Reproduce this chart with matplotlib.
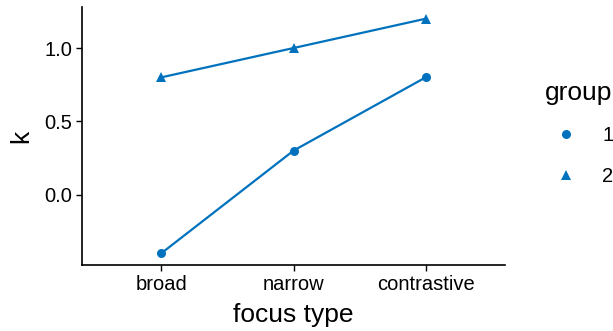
import numpy as np
import matplotlib
matplotlib.use('Agg')
import matplotlib.pyplot as plt
from matplotlib.lines import Line2D

plt.rcParams['font.family'] = ['Liberation Sans', 'DejaVu Sans']

focus = ['broad', 'narrow', 'contrastive']
groups = ['1', '2']
k_group1 = [-0.4, 0.3, 0.8]
k_group2 = [0.8, 1.0, 1.2]
yticks = [0.0, 0.5, 1.0]

blue = '#0072BD'
markers = {'1': 'o', '2': '^'}
sizes = {'1': 6.5, '2': 7.5}

fig = plt.figure(figsize=(6.13, 3.31), dpi=100)
ax = fig.add_axes([0.1338, 0.1994, 0.69, 0.7795])

x = np.arange(1, len(focus) + 1)
for g, vals in zip(groups, [k_group1, k_group2]):
    ax.plot(x, vals, color=blue, lw=1.6, marker=markers[g],
            markersize=sizes[g], markeredgewidth=0)

ymin = min(k_group1 + k_group2)
ymax = max(k_group1 + k_group2)
pad = (ymax - ymin) * 0.05
ax.set_ylim(ymin - pad, ymax + pad)
ax.set_xlim(0.4, len(focus) + 0.6)
ax.set_xticks(x)
ax.set_xticklabels(focus)
ax.set_yticks(yticks)
ax.set_yticklabels([f'{v:.1f}' for v in yticks])

for side in ['top', 'right']:
    ax.spines[side].set_visible(False)
for side in ['left', 'bottom']:
    ax.spines[side].set_linewidth(1.2)
ax.tick_params(length=4, width=1.0, labelsize=14.5, colors='black', pad=3)

ax.set_xlabel('focus type', fontsize=19, labelpad=7)
ax.set_ylabel('k', fontsize=19, labelpad=8)

handles = [Line2D([], [], color=blue, lw=0, marker=markers[g],
                  markersize=sizes[g], markeredgewidth=0) for g in groups]
leg = fig.legend(handles, groups, title='group', loc='upper left',
                 bbox_to_anchor=(0.872, 0.786), frameon=False,
                 fontsize=14.5, title_fontsize=19, handlelength=2.1,
                 handletextpad=0.75, labelspacing=1.1, borderpad=0)
leg._legend_box.align = 'left'
leg._legend_box.sep = 15

fig.savefig('out.png', dpi=100)
